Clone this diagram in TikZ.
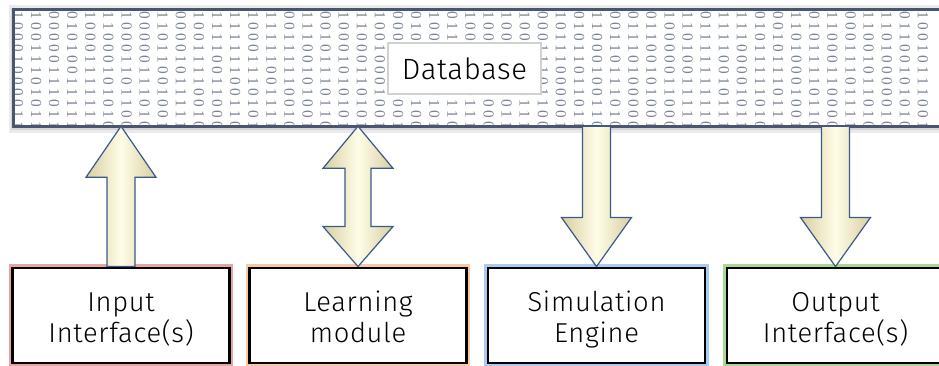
\documentclass[tikz,border=0pt]{standalone}
\usepackage{fontspec}
\setmainfont{Fira Sans Light}
\newfontfamily\bitfont{Liberation Serif}
\usepackage{xcolor}
\definecolor{dbedge}{HTML}{4A5670}
\definecolor{bitgray}{HTML}{7C8698}
\definecolor{arrline}{HTML}{3B5A8C}
\definecolor{cream}{HTML}{FFFDE8}
\definecolor{tan}{HTML}{D8CEA0}
\definecolor{glowin}{HTML}{E8A4A4}
\definecolor{glowlrn}{HTML}{F8C8A2}
\definecolor{glowsim}{HTML}{A8CCF0}
\definecolor{glowout}{HTML}{AAD890}
\usepackage{tikz}
\usetikzlibrary{calc}

\begin{document}
\begin{tikzpicture}[x=0.75pt, y=-0.75pt,
    dbframe/.style={fill=white, inner sep=0pt, minimum width=698.25pt, minimum height=87pt},
    dbtag/.style={draw=black!18, line width=1.2pt, fill=white, minimum width=114.75pt,
                  minimum height=38.25pt,
                  font=\fontsize{22}{24}\selectfont\addfontfeature{LetterSpace=2}},
    bit/.style={font=\bitfont\fontsize{11.5}{11.5}\selectfont, text=bitgray, rotate=-90, inner sep=0pt},
    modbox/.style={draw=black, line width=2.2pt, fill=white, minimum width=162.75pt,
                   minimum height=71.25pt, align=center, text height=39.75pt, text depth=0pt,
                   font=\fontsize{20.5}{23}\selectfont\addfontfeature{LetterSpace=2.5},
                   preaction={draw=#1, line width=5.5pt}},
    blockarr/.style={draw=arrline, line width=0.9pt, line join=miter,
                     left color=tan, right color=tan, middle color=cream}]
  \clip (0,0) rectangle (939,365);

  % banner with its shadow
  \fill[black!8] (9,5) rectangle (950,133);
  \fill[black!16] (11,8) rectangle (948,130);
  \node[dbframe] (db) at (479.5,68) {};
  \begin{scope}
    \clip (db.south west) rectangle (db.north east);
    \pgfmathsetseed{4711}
    \foreach \c in {0,...,50}
      \foreach \r in {0,...,10} {
        \pgfmathrandominteger{\bitval}{0}{1}
        \node[bit] (b-\c-\r) at (18+18.1*\c, 15+11*\r) {\bitval};
      }
  \end{scope}
  \draw[dbedge, line width=2.4pt] (db.south west) rectangle (db.north east);
  \node[dbtag] (tag) at (464.5,68.5) {Database};

  % modules
  \node[modbox=glowin]  (inp)  at (121,315.5)   {Input\\Interface(s)};
  \node[modbox=glowlrn] (lrn)  at (358,315.5)   {Learning\\module};
  \node[modbox=glowsim] (sim)  at (596.5,315.5) {Simulation\\Engine};
  \node[modbox=glowout] (outp) at (835.5,315.5) {Output\\Interface(s)};

  % block arrows
  \draw[blockarr] ($(inp.north)+(-14,0)$) -- ($(inp.north|-db.south)+(-14,51)$) -- ++(-21,0)
    -- (inp.north|-db.south) -- ++(35,51) -- ++(-21,0) -- ($(inp.north)+(14,0)$) -- cycle;
  \draw[blockarr] (lrn.north|-db.south) -- ++(35,42) -- ++(-22,0) -- ($(lrn.north)+(13,-40)$)
    -- ++(22,0) -- (lrn.north) -- ++(-35,-40) -- ++(22,0) -- ($(lrn.north|-db.south)+(-13,42)$)
    -- ++(-22,0) -- cycle;
  \draw[blockarr] ($(sim.north|-db.south)+(-14,0)$) -- ($(sim.north)+(-14,-49)$) -- ++(-21,0)
    -- (sim.north) -- ++(35,-49) -- ++(-21,0) -- ($(sim.north|-db.south)+(14,0)$) -- cycle;
  \draw[blockarr] ($(outp.north|-db.south)+(-14,0)$) -- ($(outp.north)+(-14,-49)$) -- ++(-21,0)
    -- (outp.north) -- ++(35,-49) -- ++(-21,0) -- ($(outp.north|-db.south)+(14,0)$) -- cycle;
\end{tikzpicture}
\end{document}
